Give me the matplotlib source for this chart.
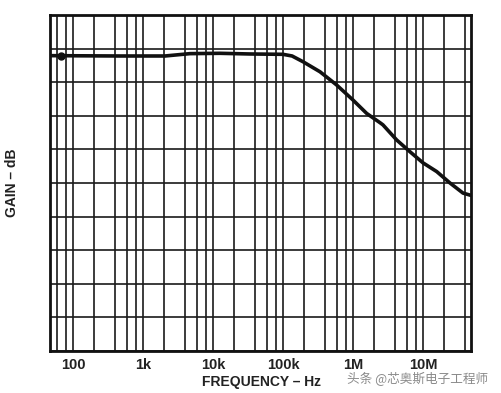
import matplotlib
matplotlib.use("Agg")
import matplotlib.pyplot as plt
import numpy as np
from matplotlib.ticker import FixedLocator, LogLocator, NullFormatter

# gain curve (y axis has no labels, 1 dB per division assumed)
freq_hz = [47, 469, 2060, 4690, 12590, 33660, 100000, 135000, 193000, 338000,
           582000, 1.0e6, 1.57e6, 2.45e6, 2.68e6, 4.21e6, 6.52e6, 1.0e7,
           1.57e7, 2.43e7, 3.73e7, 4.69e7]
gain_db = [-0.21, -0.22, -0.22, -0.15, -0.14, -0.16, -0.17, -0.22, -0.39, -0.69,
           -1.08, -1.53, -1.93, -2.21, -2.27, -2.72, -3.07, -3.40,
           -3.66, -4.00, -4.30, -4.36]
marker_f = [67]
marker_g = [-0.21]

tick_pos = [100, 1e3, 1e4, 1e5, 1e6, 1e7]
tick_lbl = ["100", "1k", "10k", "100k", "1M", "10M"]

fig = plt.figure(figsize=(5.01, 3.93), dpi=100)
ax = fig.add_axes([50 / 501, 1 - 351 / 393, 421 / 501, 336 / 393])

ax.set_xscale("log")
ax.set_xlim(47, 48.5e6)
ax.set_ylim(-9, 1)

ax.xaxis.set_major_locator(FixedLocator(tick_pos))
ax.set_xticklabels(tick_lbl)
ax.xaxis.set_minor_locator(LogLocator(base=10, subs=[2, 4, 6, 8], numticks=20))
ax.xaxis.set_minor_formatter(NullFormatter())
ax.yaxis.set_major_locator(FixedLocator(np.arange(-9, 2, 1)))
ax.set_yticklabels([])

ax.grid(True, which="both", axis="x", color="#1a1a1a", lw=1.2)
ax.grid(True, which="major", axis="y", color="#1a1a1a", lw=1.2)
ax.tick_params(which="both", length=0)
ax.tick_params(axis="x", pad=5)
for lbl in ax.get_xticklabels():
    lbl.set_fontfamily("Liberation Sans")
    lbl.set_fontweight("bold")
    lbl.set_fontsize(10.5)
    lbl.set_color("#222222")
for s in ax.spines.values():
    s.set_linewidth(2)
    s.set_color("#111111")

ax.plot(freq_hz, gain_db, color="#111111", lw=2.6, solid_joinstyle="round")
ax.plot(marker_f, marker_g, "o", color="#111111", ms=5)

fig.text(261 / 501, 1 - 382 / 393, "FREQUENCY – Hz", ha="center", va="center",
         fontfamily="Liberation Sans", fontweight="bold", fontsize=10, color="#222222")
fig.text(12 / 501, 1 - 183 / 393, "GAIN – dB", rotation=90, ha="center", va="center",
         fontfamily="Liberation Sans", fontweight="bold", fontsize=10, color="#222222")

fig.text(347 / 501, 1 - 378.5 / 393, "头条 @芯奥斯电子工程师", ha="left", va="center",
         fontfamily=["Noto Sans CJK SC", "DejaVu Sans"], fontsize=9.1, color="#8a8a8a")

fig.savefig("out.png", dpi=100)
